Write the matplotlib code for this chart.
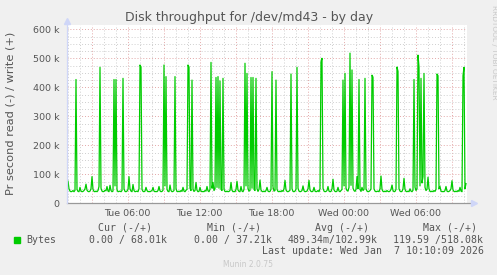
import numpy as np
import matplotlib
matplotlib.use("Agg")
from matplotlib import pyplot as plt
from matplotlib.patches import Rectangle

# write (+) bytes per second, in k, one sample every 5 minutes
escrita_k = [
    60, 77, 50, 42, 40, 41, 44, 40, 45, 427, 48, 41, 40, 55, 42, 40, 41, 44, 50, 66,
    45, 41, 40, 42, 50, 92, 48, 41, 40, 42, 40, 44, 58, 469, 52, 42, 40, 41, 45, 43,
    58, 42, 40, 62, 44, 40, 42, 427, 60, 427, 46, 40, 41, 42, 40, 44, 431, 50, 41, 40,
    42, 48, 92, 50, 42, 40, 65, 44, 40, 41, 42, 40, 50, 477, 470, 48, 41, 40, 42, 55,
    44, 40, 41, 40, 42, 44, 55, 42, 40, 41, 40, 44, 58, 43, 40, 41, 45, 477, 60, 437,
    48, 41, 40, 63, 44, 40, 41, 44, 437, 50, 41, 40, 42, 40, 44, 41, 55, 42, 40, 45,
    48, 477, 470, 52, 44, 425, 48, 41, 44, 72, 45, 40, 41, 55, 42, 40, 41, 40, 44, 42,
    58, 43, 40, 48, 486, 52, 72, 44, 50, 434, 55, 437, 52, 422, 48, 44, 431, 48, 41, 40,
    42, 40, 41, 44, 72, 45, 40, 41, 40, 48, 76, 46, 41, 40, 58, 42, 40, 48, 483, 60,
    448, 50, 42, 44, 434, 52, 434, 48, 44, 431, 50, 41, 48, 80, 46, 41, 40, 42, 40, 44,
    55, 42, 40, 41, 48, 454, 56, 42, 44, 425, 48, 41, 40, 42, 40, 44, 41, 50, 79, 46,
    41, 40, 42, 45, 446, 50, 41, 40, 42, 48, 469, 52, 42, 40, 41, 44, 60, 43, 40, 41,
    42, 50, 79, 46, 41, 40, 42, 55, 42, 40, 41, 44, 40, 50, 488, 500, 52, 42, 40, 41,
    44, 58, 42, 40, 41, 50, 83, 46, 41, 40, 42, 55, 42, 40, 44, 48, 425, 60, 448, 52,
    44, 42, 55, 518, 62, 460, 52, 44, 41, 48, 92, 50, 427, 48, 41, 55, 44, 48, 431, 50,
    42, 40, 41, 44, 50, 442, 435, 50, 42, 40, 41, 42, 40, 50, 94, 48, 41, 40, 42, 40,
    44, 41, 40, 42, 48, 63, 44, 40, 41, 48, 470, 455, 50, 42, 40, 41, 50, 86, 48, 41,
    40, 42, 40, 50, 42, 40, 45, 427, 55, 44, 50, 511, 470, 60, 431, 70, 92, 448, 55, 44,
    48, 90, 50, 41, 40, 42, 40, 44, 41, 48, 446, 440, 50, 58, 42, 40, 41, 40, 44, 58,
    42, 40, 41, 44, 50, 78, 46, 41, 40, 42, 40, 44, 41, 55, 42, 40, 440, 469, 50, 68,
]

inicio_h = 0.958          # Tue 00:57, hours since Tue 00:00
passo_h = 5.0 / 60.0
rotulos_x = ["Tue 06:00", "Tue 12:00", "Tue 18:00", "Wed 00:00", "Wed 06:00"]
horas_rotulos = [6, 12, 18, 24, 30]
rotulos_y = ["0", "100 k", "200 k", "300 k", "400 k", "500 k", "600 k"]

cabecalho = ["Cur (-/+)", "Min (-/+)", "Avg (-/+)", "Max (-/+)"]
valores = ["0.00 / 68.01k", "0.00 / 37.21k", "489.34m/102.99k", "119.59 /518.08k"]
atualizacao = "Last update: Wed Jan  7 10:10:09 2026"

verde = "#00CC00"
fundo = "#F0F0F0"
texto = "#555555"

W, H = 497, 275
fig = plt.figure(figsize=(W / 100, H / 100), dpi=100, facecolor=fundo)

def fx(px):
    return px / W

def fy(py):
    return 1 - py / H

esq, dir_, topo, base = 67, 467, 25, 203.3
ax = fig.add_axes([fx(esq), fy(base), fx(dir_ - esq), (base - topo) / H])
ax.set_facecolor("white")

y = np.array(escrita_k) * 1000.0
t = inicio_h + np.arange(len(y)) * passo_h
fim_h = inicio_h + len(y) * passo_h

ax.set_xlim(inicio_h, fim_h)
ax.set_ylim(0, 615000)

# grid
ax.set_xticks(np.arange(3, 34, 3))
ax.set_xticklabels([rotulos_x[horas_rotulos.index(h)] if h in horas_rotulos else ""
                    for h in range(3, 34, 3)])
ax.set_xticks(np.arange(1, 35, 1), minor=True)
ax.set_yticks(np.arange(0, 600001, 100000))
ax.set_yticklabels(rotulos_y)
ax.set_yticks(np.arange(0, 600001, 25000), minor=True)
ax.grid(which="minor", color="#cfcfcf", linestyle=(0, (1, 2)), linewidth=0.7)
ax.grid(which="major", color="#e3a8a8", linestyle=(0, (1, 2)), linewidth=0.7)
ax.set_axisbelow(True)

ax.tick_params(which="both", length=0, colors=texto, labelsize=6.8)
ax.tick_params(axis="y", pad=5.5)
ax.tick_params(axis="x", pad=4)
for s in ax.spines.values():
    s.set_visible(False)

ax.plot(t, y, color=verde, linewidth=0.9, zorder=3)

# axes with arrows
ax.plot([0, 1.012], [0, 0], transform=ax.transAxes, color="#999999", lw=0.9,
        clip_on=False, zorder=4)
ax.plot([1.017], [0], transform=ax.transAxes, marker=">", color="#cfd6f8",
        markersize=5, clip_on=False, zorder=4)
ax.plot([0, 0], [0, 1.01], transform=ax.transAxes, color="#cfd6f8", lw=0.9,
        clip_on=False, zorder=4)
ax.plot([0], [1.02], transform=ax.transAxes, marker="^", color="#cfd6f8",
        markersize=5, clip_on=False, zorder=4)

fig.text(fx(249), fy(17), "Disk throughput for /dev/md43 - by day", ha="center",
         va="center", fontsize=9, color=texto)
fig.text(fx(11), fy(113.5), "Pr second read (-) / write (+)", rotation=90,
         ha="center", va="center", fontsize=8.2, color=texto)
fig.text(fx(494), fy(5), "RRDTOOL / TOBI OETIKER", rotation=270, ha="center",
         va="top", fontsize=5.3, color="#c8c8c8")

# legend
mono = "DejaVu Sans Mono"
pos_cab = [98, 207, 315, 423]
for x, s in zip(pos_cab, cabecalho):
    fig.text(fx(x), fy(227.7), s, family=mono, fontsize=7.15, color=texto,
             ha="left", va="center")
fig.patches.append(Rectangle((fx(14), fy(243)), fx(6), 6 / H, color=verde,
                             transform=fig.transFigure, figure=fig))
fig.text(fx(26.7), fy(239.7), "Bytes", family=mono, fontsize=7.15, color=texto,
         ha="left", va="center")
pos_val = [89, 194.3, 287.3, 393.3]
for x, s in zip(pos_val, valores):
    fig.text(fx(x), fy(239.7), s, family=mono, fontsize=7.15, color=texto,
             ha="left", va="center")
fig.text(fx(261.7), fy(251), atualizacao, family=mono, fontsize=7.15, color=texto,
         ha="left", va="center")
fig.text(fx(248), fy(264.3), "Munin 2.0.75", ha="center", va="center",
         fontsize=5.5, color="#c8c8c8")

fig.savefig("out.png", dpi=100, facecolor=fundo)
